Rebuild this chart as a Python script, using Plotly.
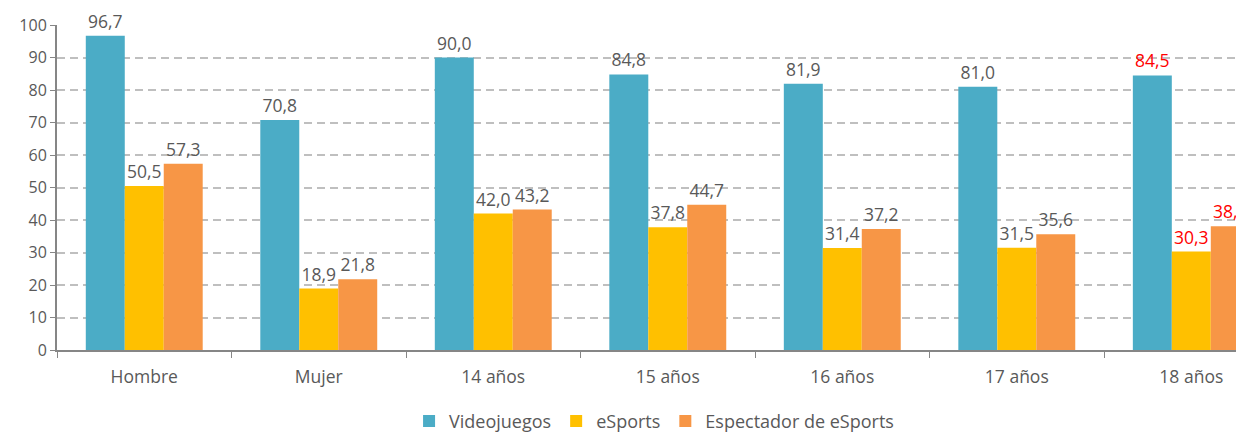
import plotly.graph_objects as go

categories = ["Hombre", "Mujer", "14 años", "15 años", "16 años", "17 años", "18 años"]
videojuegos = [96.7, 70.8, 90.0, 84.8, 81.9, 81.0, 84.5]
esports = [50.5, 18.9, 42.0, 37.8, 31.4, 31.5, 30.3]
espectador = [57.3, 21.8, 43.2, 44.7, 37.2, 35.6, 38.1]
series_names = ["Videojuegos", "eSports", "Espectador de eSports"]
colors = ["#4BACC6", "#FFC000", "#F79646"]
highlight = "18 años"

FONT = "Open Sans"
GRAY = "#595959"

fig = go.Figure()
for name, vals, col in zip(series_names, [videojuegos, esports, espectador], colors):
    tcols = ["#FF0000" if c == highlight else GRAY for c in categories]
    fig.add_trace(go.Bar(
        name=name, x=categories, y=vals, marker=dict(color=col, line=dict(width=0)),
        texttemplate="%{y:.1f}", textposition="outside", cliponaxis=False,
        textfont=dict(color=tcols, size=17.5, family=FONT),
    ))

# page has an 8px body margin: size/offset the figure so the plot lands where the reference has it
fig.update_layout(
    width=1236, height=426,
    margin=dict(l=49, r=0, t=17, b=84, autoexpand=False),
    separators=",.",
    barmode="group", bargap=0.33, bargroupgap=0,
    plot_bgcolor="white", paper_bgcolor="white",
    font=dict(family=FONT, color=GRAY, size=16),
    showlegend=True,
    legend=dict(orientation="h", x=0.503, xanchor="center",
                y=-0.219, yanchor="middle",
                font=dict(size=18, color=GRAY), itemwidth=30, traceorder="normal"),
)
fig.update_xaxes(
    range=[-0.5, 6.302], showline=True, linecolor="#868686", linewidth=2,
    ticks="outside", tickcolor="#868686", ticklen=6, tickson="boundaries",
    tickfont=dict(size=17.5, color=GRAY), showgrid=False, fixedrange=True,
    automargin=False, ticklabelstandoff=10,
)
fig.update_yaxes(
    range=[0, 100], dtick=10, showline=True, linecolor="#868686", linewidth=2,
    ticks="outside", tickcolor="#868686", ticklen=5,
    showgrid=True, gridcolor="#BFBFBF", griddash="8px,5px", gridwidth=1.5,
    zeroline=False, tickfont=dict(size=16, color=GRAY), automargin=False,
)

fig.write_html("out.html")
